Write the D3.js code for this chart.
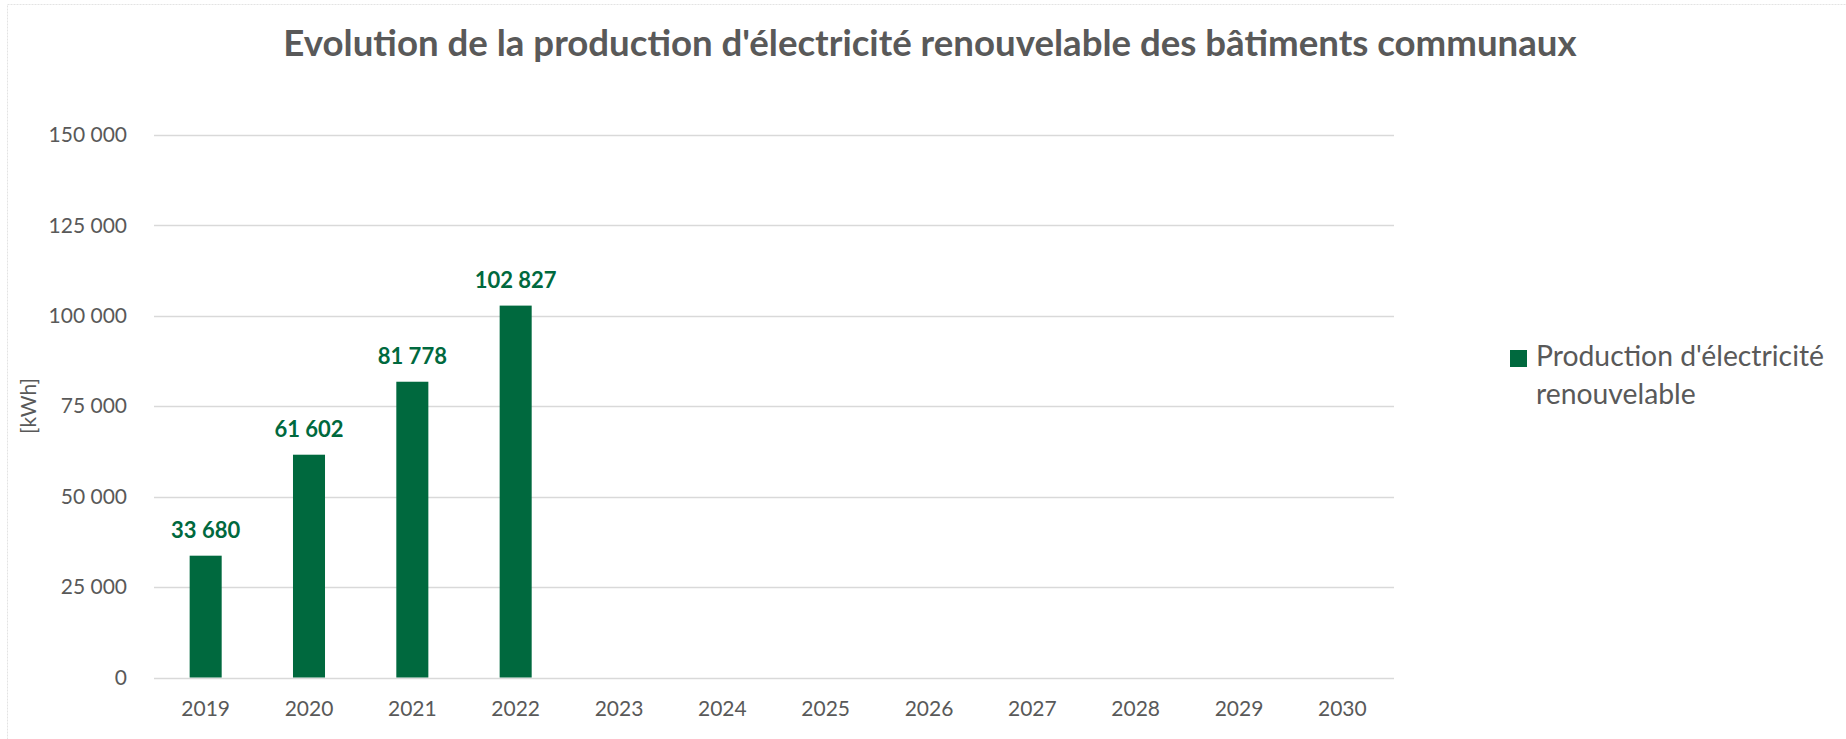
<!DOCTYPE html>
<html>
<head>
<meta charset="utf-8">
<script src="https://cdn.jsdelivr.net/npm/d3@7"></script>
<style>
  html, body { margin: 0; padding: 0; background: #fff; }
  svg { display: block; font-family: Lato, "Open Sans", sans-serif; }
</style>
</head>
<body>
<svg id="chart" width="1846" height="739"></svg>
<script>
// data
const years = ['2019', '2020', '2021', '2022', '2023', '2024', '2025', '2026', '2027', '2028', '2029', '2030'];
const production = [33680, 61602, 81778, 102827, null, null, null, null, null, null, null, null];
const yTicks = [0, 25000, 50000, 75000, 100000, 125000, 150000];
const title = "Evolution de la production d'électricité renouvelable des bâtiments communaux";
const seriesName = ["Production d'électricité", 'renouvelable'];
const yLabel = '[kWh]';

const green = '#00693e';
const grey = '#595959';
const fmt = v => d3.format(',')(v).replace(/,/g, ' ');

const svg = d3.select('#chart');

// frame
svg.append('rect')
  .attr('x', 7.5).attr('y', 4.5)
  .attr('width', 1900).attr('height', 800)
  .attr('fill', 'none')
  .attr('stroke', '#e3e3e3')
  .attr('stroke-dasharray', '2,1');

const x = d3.scaleBand()
  .domain(years)
  .range([154, 1394])
  .paddingInner(0.69)
  .paddingOuter(0.345);

const y = d3.scaleLinear()
  .domain([0, 150000])
  .range([677.5, 135]);

// grid
svg.append('g')
  .selectAll('line')
  .data(yTicks)
  .join('line')
  .attr('x1', 154).attr('x2', 1394)
  .attr('y1', d => Math.round(y(d)) + 0.5)
  .attr('y2', d => Math.round(y(d)) + 0.5)
  .attr('stroke', '#d9d9d9')
  .attr('stroke-width', 1.3);

// y axis labels
const yAxis = svg.append('g')
  .attr('transform', 'translate(154,0)')
  .call(d3.axisLeft(y).tickValues(yTicks).tickFormat(fmt).tickSize(0).tickPadding(27))
  .attr('font-family', null)
  .attr('font-size', null);
yAxis.select('.domain').remove();
yAxis.selectAll('text')
  .attr('fill', grey)
  .style('font-size', '21px');

// x axis labels
const xAxis = svg.append('g')
  .attr('transform', 'translate(0,677.5)')
  .call(d3.axisBottom(x).tickSize(0).tickPadding(24))
  .attr('font-family', null)
  .attr('font-size', null);
xAxis.select('.domain').remove();
xAxis.selectAll('text')
  .attr('fill', grey)
  .style('font-size', '21px');

// bars
const pts = years.map((k, i) => ({ k, v: production[i] })).filter(d => d.v != null);
svg.append('g')
  .selectAll('rect')
  .data(pts)
  .join('rect')
  .attr('x', d => x(d.k))
  .attr('width', x.bandwidth())
  .attr('y', d => y(d.v))
  .attr('height', d => y(0) - y(d.v))
  .attr('fill', green);

// data labels
svg.append('g')
  .selectAll('text')
  .data(pts)
  .join('text')
  .attr('x', d => x(d.k) + x.bandwidth() / 2)
  .attr('y', d => y(d.v) - 18)
  .attr('text-anchor', 'middle')
  .attr('fill', green)
  .style('font-size', '22px')
  .style('font-weight', 'bold')
  .text(d => fmt(d.v));

// y title
svg.append('text')
  .attr('transform', 'translate(36,406) rotate(-90)')
  .attr('text-anchor', 'middle')
  .attr('fill', grey)
  .style('font-size', '21px')
  .text(yLabel);

// title, fitted to its width in the reference
const t = svg.append('text')
  .attr('x', 930)
  .attr('y', 56)
  .attr('text-anchor', 'middle')
  .attr('fill', grey)
  .style('font-weight', 'bold')
  .style('font-size', '32px')
  .text(title);
const tw = t.node().getComputedTextLength();
t.style('font-size', (32 * 1294 / tw).toFixed(2) + 'px');

// legend
svg.append('rect')
  .attr('x', 1510).attr('y', 350)
  .attr('width', 17).attr('height', 17)
  .attr('fill', green);
const lg = svg.append('text')
  .attr('fill', grey)
  .style('font-size', '23px');
lg.selectAll('tspan')
  .data(seriesName)
  .join('tspan')
  .attr('x', 1536)
  .attr('y', (d, i) => 366 + i * 38)
  .text(d => d);
const lw = lg.select('tspan').node().getComputedTextLength();
lg.style('font-size', (23 * 288 / lw).toFixed(2) + 'px');
</script>
</body>
</html>
